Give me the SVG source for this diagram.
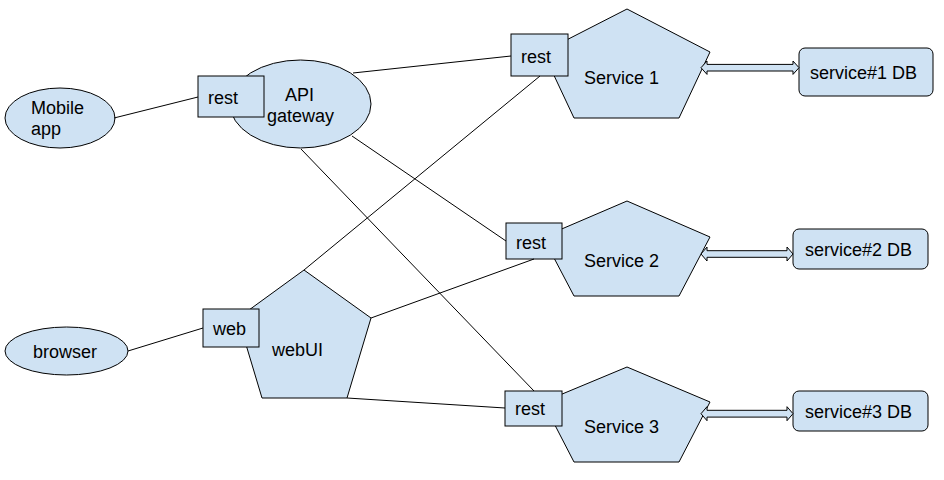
<svg xmlns="http://www.w3.org/2000/svg" width="944" height="480" viewBox="0 0 944 480">
<style>
.n{fill:#cfe2f3;stroke:#000;stroke-width:1}
.t{font-family:"Liberation Sans",Arial,sans-serif;font-size:18px;fill:#000}
.c{stroke:#000;stroke-width:1;fill:none}
.a{fill:#cfe2f3;stroke:#000;stroke-width:1;stroke-linejoin:miter}
</style>
<rect width="944" height="480" fill="#fff"/>
<g id="mobile-app"><ellipse class="n" cx="60" cy="118" rx="55" ry="30"/><text class="t" x="31" y="114">Mobile</text><text class="t" x="31" y="135">app</text></g>
<g id="api-gateway"><ellipse class="n" cx="300.5" cy="104" rx="70.5" ry="44"/><text class="t" x="285" y="100.5">API</text><text class="t" x="267" y="122">gateway</text></g>
<g id="api-rest"><rect class="n" x="198" y="76" width="66" height="41"/><text class="t" x="208" y="104">rest</text></g>
<g id="browser"><ellipse class="n" cx="66.5" cy="351" rx="61.5" ry="24"/><text class="t" x="33" y="358">browser</text></g>
<g id="webui"><polygon class="n" points="304,270 371,318 347,398 262,398 238,318"/><text class="t" x="272" y="356">webUI</text></g>
<g id="webui-web"><rect class="n" x="203" y="309" width="56" height="38"/><text class="t" x="213" y="335">web</text></g>
<g id="service1"><polygon class="n" points="627,9 710,52 679,118 574,118 543,52"/><text class="t" x="584" y="83.5">Service 1</text></g>
<g id="service1-rest"><rect class="n" x="511" y="34" width="57" height="42"/><text class="t" x="521" y="63">rest</text></g>
<g id="service1-db"><rect class="n" x="799" y="48" width="134" height="48" rx="6"/><text class="t" x="810" y="79">service#1 DB</text></g>
<g id="service2"><polygon class="n" points="627,201 710,237 679,296 574,296 543,237"/><text class="t" x="584" y="267">Service 2</text></g>
<g id="service2-rest"><rect class="n" x="506" y="223" width="56" height="36"/><text class="t" x="516" y="248.5">rest</text></g>
<g id="service2-db"><rect class="n" x="793" y="229" width="135" height="40" rx="6"/><text class="t" x="805" y="256">service#2 DB</text></g>
<g id="service3"><polygon class="n" points="627,367 710,402 679,462 574,462 543,402"/><text class="t" x="584" y="432.5">Service 3</text></g>
<g id="service3-rest"><rect class="n" x="505" y="391" width="57" height="35"/><text class="t" x="515" y="414.5">rest</text></g>
<g id="service3-db"><rect class="n" x="793" y="391" width="135" height="40" rx="6"/><text class="t" x="805" y="417.5">service#3 DB</text></g>
<g id="connectors">
<line class="c" x1="114" y1="118" x2="198" y2="97"/>
<line class="c" x1="353" y1="73" x2="511" y2="56"/>
<line class="c" x1="352" y1="136" x2="506" y2="241"/>
<line class="c" x1="301" y1="149" x2="534" y2="391"/>
<line class="c" x1="304" y1="270" x2="540" y2="76"/>
<line class="c" x1="371" y1="318" x2="534" y2="259"/>
<line class="c" x1="347" y1="398" x2="505" y2="408"/>
<line class="c" x1="128" y1="351" x2="203" y2="328"/>
<polygon class="a" points="701,67.7 707,61 707,64.4 793,64.4 793,61 799,67.7 793,74.4 793,71 707,71 707,74.4"/>
<polygon class="a" points="701,254 707,247 707,250.7 787,250.7 787,247 793,254 787,261 787,257.3 707,257.3 707,261"/>
<polygon class="a" points="701,413.7 707,406.7 707,410.3 787,410.3 787,406.7 793,413.7 787,420.7 787,417.1 707,417.1 707,420.7"/>
</g>
</svg>
